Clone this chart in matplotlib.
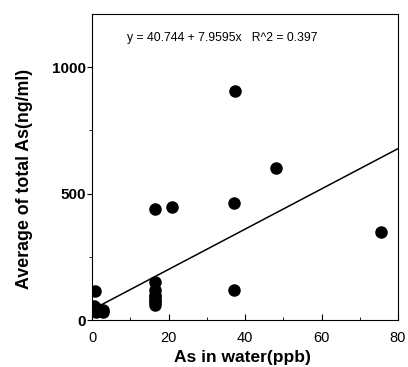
import matplotlib
matplotlib.use("Agg")
import matplotlib.pyplot as plt
import numpy as np

plt.rcParams['font.family'] = ['Liberation Sans', 'DejaVu Sans']

# As in water (ppb) vs average total As (ng/ml)
as_water = [0.5, 0.8, 1.0, 2.0, 3.0, 0.5, 3.0, 1.5,
            16.5, 16.5, 16.5, 16.5, 16.5, 16.5, 16.5, 16.5,
            21.0, 37.5, 37.0, 37.0, 48.0, 75.5]
as_total = [40, 115, 30, 35, 40, 55, 30, 45,
            440, 150, 120, 100, 90, 80, 70, 60,
            447, 905, 462, 118, 600, 348]

intercept = 40.744
slope = 7.9595
r2 = 0.397

fig = plt.figure(figsize=(4.08, 3.67), dpi=100)
ax = fig.add_axes([0.2255, 0.128, 0.75, 0.834])

ax.plot(as_water, as_total, 'o', color='black', markersize=8, zorder=3)

xfit = np.array([0, 80])
ax.plot(xfit, intercept + slope * xfit, color='black', linewidth=1.1)

ax.text(0.115, 0.92, 'y = %.3f + %.4fx   R^2 = %.3f' % (intercept, slope, r2),
        transform=ax.transAxes, fontsize=8.8, va='center')

ax.set_xlim(0, 80)
ax.set_ylim(0, 1210)
ax.set_xticks([0, 20, 40, 60, 80])
ax.set_xticks([10, 30, 50, 70], minor=True)
ax.set_yticks([0, 500, 1000])
ax.set_yticks([250, 750], minor=True)
ax.tick_params(axis='x', which='both', direction='in', labelsize=10.5, pad=8)
ax.tick_params(axis='x', which='major', length=4)
ax.tick_params(axis='x', which='minor', length=2.5)
ax.tick_params(axis='y', which='both', direction='out', labelsize=11, pad=1)
ax.tick_params(axis='y', which='major', length=3.5)
ax.tick_params(axis='y', which='minor', length=2.5)
for lbl in ax.get_yticklabels():
    lbl.set_fontweight('bold')

ax.set_xlabel('As in water(ppb)', fontsize=12.5, fontweight='bold')
ax.set_ylabel('Average of total As(ng/ml)', fontsize=12.8, fontweight='bold')
ax.xaxis.set_label_coords(0.492, -0.097)
ax.yaxis.set_label_coords(-0.193, 0.46)

fig.savefig('out.png', dpi=100)
